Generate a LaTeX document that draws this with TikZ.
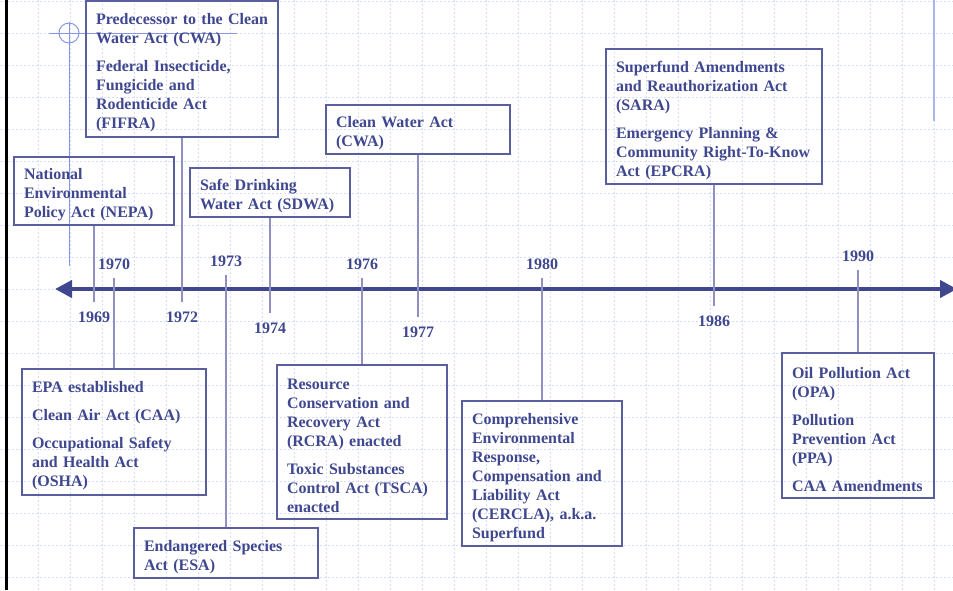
\documentclass[tikz,border=0pt]{standalone}
\usepackage{fontspec}
\setmainfont{Liberation Serif}
\usetikzlibrary{arrows.meta, positioning}
\definecolor{navy}{HTML}{3F478F}
\definecolor{frame}{HTML}{5A5E9E}
\definecolor{stemcol}{HTML}{9090C0}
\definecolor{gridcol}{HTML}{D6DDF6}
\definecolor{guide}{HTML}{8797E4}

\begin{document}
\begin{tikzpicture}[
  x=1pt, y=-1pt,
  node distance=3pt,
  act/.style={draw=frame, line width=1.4pt, text=navy, align=left,
              inner xsep=10pt, inner ysep=3pt,
              execute at begin node={\vskip 0pt},
              font=\bfseries\fontsize{16}{19}\selectfont},
  year/.style={text=navy, font=\bfseries\fontsize{16}{19}\selectfont},
  stem/.style={draw=stemcol, line width=2pt},
  timeaxis/.style={line width=4pt, color=navy,
                   {Triangle[length=17pt,width=17pt]}-{Triangle[length=17pt,width=17pt]}},
  gridln/.style={draw=gridcol, line width=0.8pt, dash pattern=on 2pt off 2pt}
]
  \useasboundingbox (0,0) rectangle (953,590);

  % Slide background
  \foreach \gx in {6,38,...,934} \draw[gridln] (\gx,0) -- (\gx,590);
  \foreach \gy in {1,33,...,577} \draw[gridln] (0,\gy) -- (953,\gy);
  \draw[line width=3pt] (6.5,0) -- (6.5,590);
  \draw[guide, line width=1pt] (69,33) circle (10pt);
  \draw[guide, line width=1pt] (49,33) -- (237,33);
  \draw[guide, line width=1pt] (69,22) -- (69,266);
  \draw[guide!70, line width=2.5pt] (934,0) -- (934,121);

  % Time axis
  \coordinate (past) at (55,289);
  \coordinate (future) at (957,289);
  \draw[timeaxis] (past) -- (future);

  % Stem ends
  \coordinate (y69) at (94,302);
  \coordinate (y70) at (114,278);
  \coordinate (y72) at (182,302);
  \coordinate (y73) at (226,275);
  \coordinate (y74) at (270,313);
  \coordinate (y76) at (362,278);
  \coordinate (y77) at (418,317);
  \coordinate (y80) at (542,278);
  \coordinate (y86) at (714,306);
  \coordinate (y90) at (858,270);

  % Acts above the axis
  \node[act, text width=172pt, minimum height=136pt] (fifra) at (182,69)
    {\mbox{Predecessor to the Clean}\\Water Act (CWA)\\[9pt]Federal Insecticide,\\Fungicide and\\Rodenticide Act\\(FIFRA)};
  \node[act, text width=140pt, minimum height=68pt] (nepa) at (94,191)
    {National\\Environmental\\Policy Act (NEPA)};
  \node[act, text width=140pt, minimum height=49pt] (sdwa) at (270,192.5)
    {Safe Drinking\\Water Act (SDWA)};
  \node[act, text width=164pt, minimum height=49pt] (cwa) at (418,129.5)
    {Clean Water Act\\(CWA)};
  \node[act, text width=196pt, minimum height=135pt] (sara) at (714,116.5)
    {Superfund Amendments\\and Reauthorization Act\\(SARA)\\[9pt]Emergency Planning \&\\\mbox{Community Right-To-Know}\\Act (EPCRA)};

  % Acts below the axis
  \node[act, text width=164pt, minimum height=126pt] (epa) at (114,432)
    {EPA established\\[9pt]Clean Air Act (CAA)\\[9pt]Occupational Safety\\and Health Act\\(OSHA)};
  \node[act, text width=164pt, minimum height=50pt] (esa) at (226,553)
    {Endangered Species\\Act (ESA)};
  \node[act, text width=150pt, minimum height=154pt] (rcra) at (362,442)
    {Resource\\Conservation and\\Recovery Act\\(RCRA) enacted\\[9pt]Toxic Substances\\Control Act (TSCA)\\enacted};
  \node[act, text width=140pt, minimum height=145pt] (cercla) at (542,473.5)
    {Comprehensive\\Environmental\\Response,\\Compensation and\\Liability Act\\(CERCLA), a.k.a.\\Superfund};
  \node[act, text width=132pt, minimum height=145pt] (opa) at (858,425.5)
    {Oil Pollution Act\\(OPA)\\[9pt]Pollution\\Prevention Act\\(PPA)\\[9pt]CAA Amendments};

  % Stems
  \draw[stem] (nepa.south) -- (y69);
  \draw[stem] (epa.north) -- (y70);
  \draw[stem] (fifra.south) -- (y72);
  \draw[stem] (esa.north) -- (y73);
  \draw[stem] (sdwa.south) -- (y74);
  \draw[stem] (rcra.north) -- (y76);
  \draw[stem] (cwa.south) -- (y77);
  \draw[stem] (cercla.north) -- (y80);
  \draw[stem] (sara.south) -- (y86);
  \draw[stem] (opa.north) -- (y90);

  % Years
  \node[year, below=6.5pt of y69] (l69) {1969};
  \node[year, above=5pt of y70] (l70) {1970};
  \node[year, below=6.5pt of y72] (l72) {1972};
  \node[year, above=5pt of y73] (l73) {1973};
  \node[year, below=6.5pt of y74] (l74) {1974};
  \node[year, above=5pt of y76] (l76) {1976};
  \node[year, below=6.5pt of y77] (l77) {1977};
  \node[year, above=5pt of y80] (l80) {1980};
  \node[year, below=6.5pt of y86] (l86) {1986};
  \node[year, above=5pt of y90] (l90) {1990};
\end{tikzpicture}
\end{document}
